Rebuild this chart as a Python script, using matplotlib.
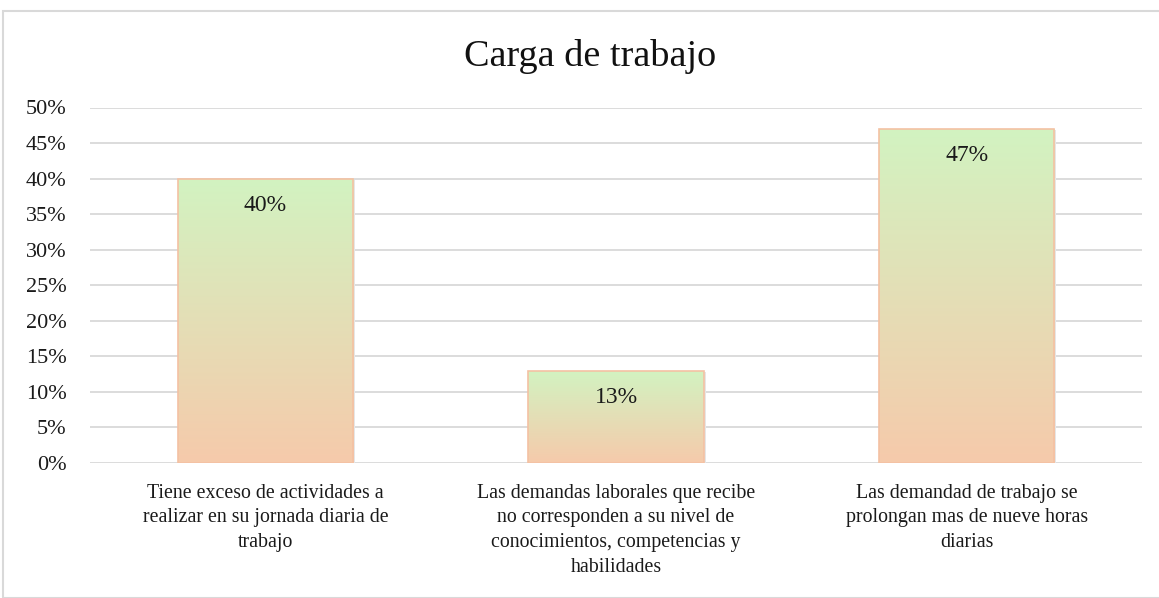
import numpy as np
import matplotlib.pyplot as plt
from matplotlib.colors import LinearSegmentedColormap
from matplotlib.patches import Rectangle
from matplotlib.ticker import MultipleLocator, PercentFormatter

plt.rcParams['font.family'] = ['Liberation Serif', 'DejaVu Serif']

title = "Carga de trabajo"
categories = [
    "Tiene exceso de actividades a\nrealizar en su jornada diaria de\ntrabajo",
    "Las demandas laborales que recibe\nno corresponden a su nivel de\nconocimientos, competencias y\nhabilidades",
    "Las demandad de trabajo se\nprolongan mas de nueve horas\ndiarias",
]
values = [0.40, 0.13, 0.47]
value_labels = ["40%", "13%", "47%"]

W, H = 1159, 598
fig = plt.figure(figsize=(W / 100, H / 100), dpi=100)

# outer chart border (cut off on the right and bottom like the source)
fig.patches.append(Rectangle((3 / W, 0), 1.0, 1 - 11 / H, transform=fig.transFigure,
                             fill=False, edgecolor='#d9d9d9', linewidth=1.5))

ax = fig.add_axes([90 / W, (H - 463) / H, 1052 / W, (463 - 107.5) / H])
x = np.arange(len(categories))
bars = ax.bar(x, values, width=0.5, color='none', edgecolor='#f4c1a3', linewidth=1.2, zorder=3)

cmap = LinearSegmentedColormap.from_list('grad', ['#f6caab', '#d2f3c1'])
grad = np.linspace(0, 1, 256).reshape(-1, 1)
for b in bars:
    x0, y0 = b.get_x(), b.get_y()
    w, h = b.get_width(), b.get_height()
    # light shadow
    ax.add_patch(Rectangle((x0 + 0.006, y0 - 0.002), w, h, facecolor='#e6e6e6',
                           edgecolor='none', zorder=1.5))
    im = ax.imshow(grad, extent=[x0, x0 + w, y0, y0 + h], origin='lower',
                   cmap=cmap, aspect='auto', zorder=2)
    im.set_clip_path(b)

for xi, v, lab in zip(x, values, value_labels):
    ax.annotate(lab, (xi, v), xytext=(0, -27), textcoords='offset pixels',
                ha='center', va='center', fontsize=17, color='#1a1a1a', zorder=4)

ax.set_xlim(-0.5, len(categories) - 0.5)
ax.set_ylim(0, 0.5)
ax.yaxis.set_major_locator(MultipleLocator(0.05))
ax.yaxis.set_major_formatter(PercentFormatter(1.0, decimals=0))
ax.grid(axis='y', color='#d9d9d9', linewidth=1.3, zorder=0)
ax.set_axisbelow(True)
for s in ax.spines.values():
    s.set_visible(False)
ax.tick_params(axis='both', length=0, colors='#1a1a1a')
ax.tick_params(axis='y', pad=17, labelsize=16)
ax.tick_params(axis='x', pad=15, labelsize=14.3)
ax.set_xticks(x)
ax.set_xticklabels(categories, linespacing=1.4, va='top')

fig.text(590 / W, 1 - 57 / H, title, ha='center', va='center', fontsize=27.5, color='#111111')

fig.savefig('out.png', dpi=100)
